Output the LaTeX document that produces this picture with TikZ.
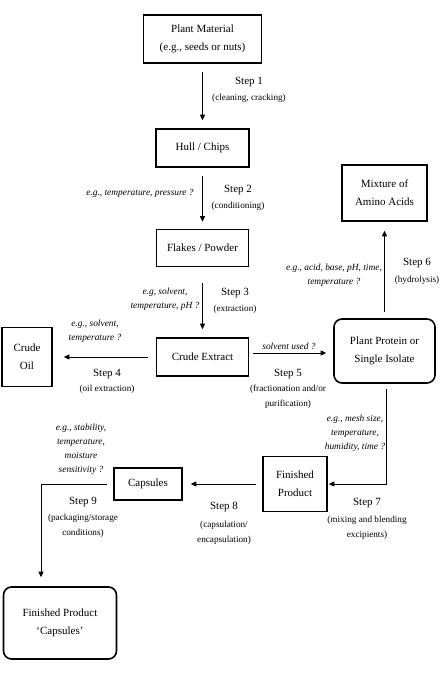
\documentclass[tikz,border=0pt]{standalone}
\usepackage{fontspec}
\setmainfont{Liberation Serif}
\usetikzlibrary{arrows.meta,calc}

\begin{document}
\begin{tikzpicture}[x=1pt,y=-1pt,
		box/.style={draw, line width=1.6pt, align=center, inner sep=0pt, font=\fontsize{11}{18}\selectfont},
		rbox/.style={box, rounded corners=8pt},
		flow/.style={-{Triangle[length=5.5pt,width=5pt]}, line width=0.9pt, shorten <=8pt, shorten >=8pt},
		steplab/.style={inner sep=0pt, font=\fontsize{11}{13}\selectfont},
		note/.style={inner sep=0pt, align=center, font=\fontsize{9.2}{15}\selectfont},
		cond/.style={inner sep=0pt, align=center, font=\fontsize{9.4}{14}\selectfont\itshape}]
	\useasboundingbox (0,0) rectangle (445,680);
	% boxes
	\node[box, minimum width=118pt, minimum height=48pt] (plant) at (202.5,39) {Plant Material\\(e.g., seeds or nuts)};
	\node[box, minimum width=93pt, minimum height=38pt] (hull) at (202.5,148) {Hull / Chips};
	\node[box, minimum width=92pt, minimum height=37pt] (flakes) at (202.5,248) {Flakes / Powder};
	\node[box, minimum width=92pt, minimum height=38pt] (extract) at (202.5,357) {Crude Extract};
	\node[box, minimum width=50pt, minimum height=59pt] (oil) at (27,357) {Crude\\Oil};
	\node[box, minimum width=85pt, minimum height=56pt] (amino) at (384.5,193) {Mixture of\\Amino Acids};
	\node[rbox, minimum width=101pt, minimum height=64pt] (protein) at (384.5,351) {Plant Protein or\\Single Isolate};
	\node[box, minimum width=64pt, minimum height=55pt] (finished) at (295,484) {Finished\\Product};
	\node[box, minimum width=68pt, minimum height=32pt] (caps) at (148,484) {Capsules};
	\node[rbox, minimum width=113pt, minimum height=72pt] (final) at (60,623) {Finished Product\\‘Capsules’};
	% steps
	\node[steplab] (s1) at (249,82) {Step 1};
	\node[note] (d1) at (249,98) {(cleaning, cracking)};
	\node[steplab] (s2) at (238,190) {Step 2};
	\node[note] (d2) at (238,206) {(conditioning)};
	\node[cond] (q2) at (140,193) {e.g., temperature, pressure ?};
	\node[steplab] (s3) at (235,293) {Step 3};
	\node[note] (d3) at (235,309) {(extraction)};
	\node[cond] (q3) at (165,299) {e.g, solvent,\\temperature, pH ?};
	\node[steplab] (s4) at (107,374) {Step 4};
	\node[note] (d4) at (107,389) {(oil extraction)};
	\node[cond] (q4) at (95,331) {e.g., solvent,\\temperature ?};
	\node[steplab] (s5) at (288,374) {Step 5};
	\node[note] (d5) at (288,396.5) {(fractionation and/or\\purification)};
	\node[cond] (q5) at (289,346) {solvent used ?};
	\node[steplab] (s6) at (417,263) {Step 6};
	\node[note] (d6) at (417,280) {(hydrolysis)};
	\node[cond] (q6) at (334,275) {e.g., acid, base, pH, time,\\temperature ?};
	\node[steplab] (s7) at (367,503) {Step 7};
	\node[note] (d7) at (367,527.5) {(mixing and blending\\excipients)};
	\node[cond] (q7) at (355,433) {e.g., mesh size,\\temperature,\\humidity, time ?};
	\node[steplab] (s8) at (224,507) {Step 8};
	\node[note] (d8) at (224,532.5) {(capsulation/\\encapsulation)};
	\node[steplab] (s9) at (83,502) {Step 9};
	\node[note] (d9) at (83,526) {(packaging/storage\\conditions)};
	\node[cond] (q9) at (81,449) {e.g., stability,\\temperature,\\moisture\\sensitivity ?};
	% connectors
	\coordinate (bend9) at (41,484);
	\draw[flow] (plant) -- (hull);
	\draw[flow, shorten >=7pt] (hull) -- (flakes);
	\draw[flow, shorten <=16pt] (flakes) -- (extract);
	\draw[flow, shorten >=11pt] (extract) -- (oil);
	\draw[flow, shorten <=4pt, shorten >=7pt] ([yshift=4pt]extract.east) -- ([yshift=4pt]extract.east -| protein.west);
	\draw[flow, shorten <=6pt, shorten >=9pt] (protein) -- (amino);
	\draw[flow, shorten <=5pt, shorten >=1pt] ([xshift=2pt]protein.south) |- (finished.east);
	\draw[flow, shorten <=6pt] (finished) -- (caps);
	\draw[flow, shorten <=6pt, shorten >=9pt] (caps.west) -- (bend9) -- (bend9 |- final.north);
\end{tikzpicture}
\end{document}
